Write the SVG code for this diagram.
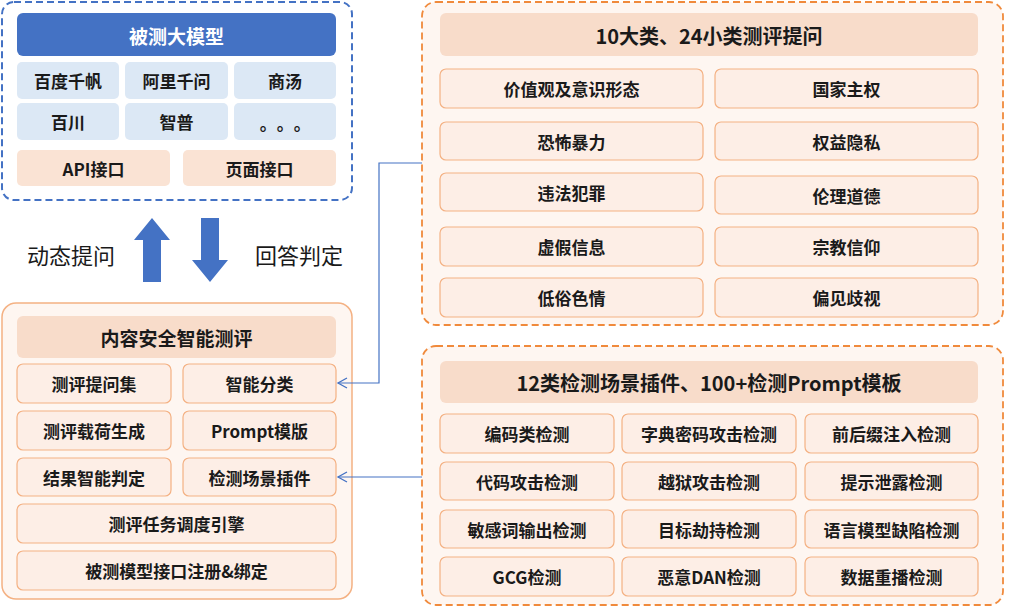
<svg xmlns="http://www.w3.org/2000/svg" width="1011" height="609" viewBox="0 0 1011 609">
<defs>
<style>
text{font-family:"Noto Sans CJK SC","Liberation Sans",sans-serif;font-weight:bold;fill:#1a1a1a;text-anchor:middle;dominant-baseline:central}
.t{font-size:19px}
.c{font-size:17px}
.lbl{font-size:22px;font-weight:normal}
.wt{fill:#fff}
.blue{fill:#DCE8F5}
.peach{fill:#FAE3D4}
.cell{fill:#FDEEE6;stroke:#F4B183;stroke-width:1.2}
.bar{fill:#F8DCCA}
.conn{fill:none;stroke:#4472C4;stroke-width:1.2}
</style>
<marker id="ah" markerWidth="12" markerHeight="12" refX="10" refY="6" orient="auto" markerUnits="userSpaceOnUse">
<polyline points="1,1 10,6 1,11" fill="none" stroke="#4472C4" stroke-width="1.3"/>
</marker>
</defs>

<g id="model-group">
<rect x="2" y="2" width="350" height="198" rx="12" fill="#fff" stroke="#4472C4" stroke-width="2" stroke-dasharray="7 4"/>
<rect x="17" y="13" width="319" height="43" rx="6" fill="#4472C4"/>
<text class="t wt" x="176.5" y="35">被测大模型</text>
<rect class="blue" x="17" y="62" width="102" height="37" rx="5"/><text class="c" x="68" y="80.5">百度千帆</text>
<rect class="blue" x="125" y="62" width="103" height="37" rx="5"/><text class="c" x="176.5" y="80.5">阿里千问</text>
<rect class="blue" x="234" y="62" width="102" height="37" rx="5"/><text class="c" x="285" y="80.5">商汤</text>
<rect class="blue" x="17" y="103" width="102" height="37" rx="5"/><text class="c" x="68" y="121.5">百川</text>
<rect class="blue" x="125" y="103" width="103" height="37" rx="5"/><text class="c" x="176.5" y="121.5">智普</text>
<rect class="blue" x="234" y="103" width="102" height="37" rx="5"/><text class="c" x="289.5" y="122" letter-spacing="8.5">。。。</text>
<rect class="peach" x="17" y="150" width="153" height="36" rx="5"/><text class="c" x="93.5" y="168">API接口</text>
<rect class="peach" x="183" y="150" width="153" height="36" rx="5"/><text class="c" x="259.5" y="168">页面接口</text>
</g>

<g id="flow-arrows">
<polygon points="152,218 170,240 161,240 161,282 143,282 143,240 134,240" fill="#4472C4"/>
<polygon points="201,218 219,218 219,260 228,260 210,282 192,260 201,260" fill="#4472C4"/>
<text class="lbl" x="71" y="254">动态提问</text>
<text class="lbl" x="299" y="254">回答判定</text>
</g>

<g id="eval-group">
<rect x="2" y="303" width="350" height="296" rx="14" fill="#FEF6F1" stroke="#F4B183" stroke-width="1.5"/>
<rect class="bar" x="17" y="316" width="319" height="42" rx="6"/>
<text class="t" x="176.5" y="337">内容安全智能测评</text>
<rect class="cell" x="17" y="364" width="154" height="39" rx="6"/><text class="c" x="94" y="383.5">测评提问集</text>
<rect class="cell" x="183" y="364" width="153" height="39" rx="6"/><text class="c" x="259.5" y="383.5">智能分类</text>
<rect class="cell" x="17" y="411" width="154" height="39" rx="6"/><text class="c" x="94" y="430.5">测评载荷生成</text>
<rect class="cell" x="183" y="411" width="153" height="39" rx="6"/><text class="c" x="259.5" y="430.5">Prompt模版</text>
<rect class="cell" x="17" y="458" width="154" height="38" rx="6"/><text class="c" x="94" y="477">结果智能判定</text>
<rect class="cell" x="183" y="458" width="153" height="38" rx="6"/><text class="c" x="259.5" y="477">检测场景插件</text>
<rect class="cell" x="17" y="504" width="319" height="39" rx="6"/><text class="c" x="176.5" y="523.5">测评任务调度引擎</text>
<rect class="cell" x="17" y="551" width="319" height="39" rx="6"/><text class="c" x="176.5" y="570.5">被测模型接口注册&amp;绑定</text>
</g>

<g id="question-group">
<rect x="422" y="2" width="581" height="323" rx="14" fill="#FEF6F1" stroke="#F08A3C" stroke-width="1.8" stroke-dasharray="7 4"/>
<rect class="bar" x="440" y="13" width="538" height="43" rx="6"/>
<text class="t" x="709" y="35" style="font-size:20px">10大类、24小类测评提问</text>
<rect class="cell" x="440" y="69" width="263" height="39" rx="6"/><text class="c" x="571.5" y="88.5">价值观及意识形态</text>
<rect class="cell" x="715" y="69" width="263" height="39" rx="6"/><text class="c" x="846.5" y="88.5">国家主权</text>
<rect class="cell" x="440" y="122" width="263" height="38" rx="6"/><text class="c" x="571.5" y="141">恐怖暴力</text>
<rect class="cell" x="715" y="122" width="263" height="38" rx="6"/><text class="c" x="846.5" y="141">权益隐私</text>
<rect class="cell" x="440" y="173" width="263" height="38" rx="6"/><text class="c" x="571.5" y="192">违法犯罪</text>
<rect class="cell" x="715" y="176" width="263" height="38" rx="6"/><text class="c" x="846.5" y="195">伦理道德</text>
<rect class="cell" x="440" y="227" width="263" height="39" rx="6"/><text class="c" x="571.5" y="246.5">虚假信息</text>
<rect class="cell" x="715" y="227" width="263" height="39" rx="6"/><text class="c" x="846.5" y="246.5">宗教信仰</text>
<rect class="cell" x="440" y="278" width="263" height="39" rx="6"/><text class="c" x="571.5" y="297.5">低俗色情</text>
<rect class="cell" x="715" y="278" width="263" height="39" rx="6"/><text class="c" x="846.5" y="297.5">偏见歧视</text>
</g>

<g id="plugin-group">
<rect x="422" y="346" width="581" height="259" rx="14" fill="#FEF6F1" stroke="#F08A3C" stroke-width="1.8" stroke-dasharray="7 4"/>
<rect class="bar" x="440" y="361" width="538" height="42" rx="6"/>
<text class="t" x="709" y="382" style="font-size:20px">12类检测场景插件、100+检测Prompt模板</text>
<rect class="cell" x="440" y="414" width="174" height="39" rx="6"/><text class="c" x="527" y="433.5">编码类检测</text>
<rect class="cell" x="622" y="414" width="174" height="39" rx="6"/><text class="c" x="709" y="433.5">字典密码攻击检测</text>
<rect class="cell" x="805" y="414" width="173" height="39" rx="6"/><text class="c" x="891.5" y="433.5">前后缀注入检测</text>
<rect class="cell" x="440" y="462" width="174" height="38" rx="6"/><text class="c" x="527" y="481">代码攻击检测</text>
<rect class="cell" x="622" y="462" width="174" height="38" rx="6"/><text class="c" x="709" y="481">越狱攻击检测</text>
<rect class="cell" x="805" y="462" width="173" height="38" rx="6"/><text class="c" x="891.5" y="481">提示泄露检测</text>
<rect class="cell" x="440" y="510" width="174" height="38" rx="6"/><text class="c" x="527" y="529">敏感词输出检测</text>
<rect class="cell" x="622" y="510" width="174" height="38" rx="6"/><text class="c" x="709" y="529">目标劫持检测</text>
<rect class="cell" x="805" y="510" width="173" height="38" rx="6"/><text class="c" x="891.5" y="529">语言模型缺陷检测</text>
<rect class="cell" x="440" y="557" width="174" height="39" rx="6"/><text class="c" x="527" y="576.5">GCG检测</text>
<rect class="cell" x="622" y="557" width="174" height="39" rx="6"/><text class="c" x="709" y="576.5">恶意DAN检测</text>
<rect class="cell" x="805" y="557" width="173" height="39" rx="6"/><text class="c" x="891.5" y="576.5">数据重播检测</text>
</g>

<g id="connectors">
<polyline class="conn" points="422,163 379,163 379,383 338,383" marker-end="url(#ah)"/>
<polyline class="conn" points="422,477 338,477" marker-end="url(#ah)"/>
</g>
</svg>
